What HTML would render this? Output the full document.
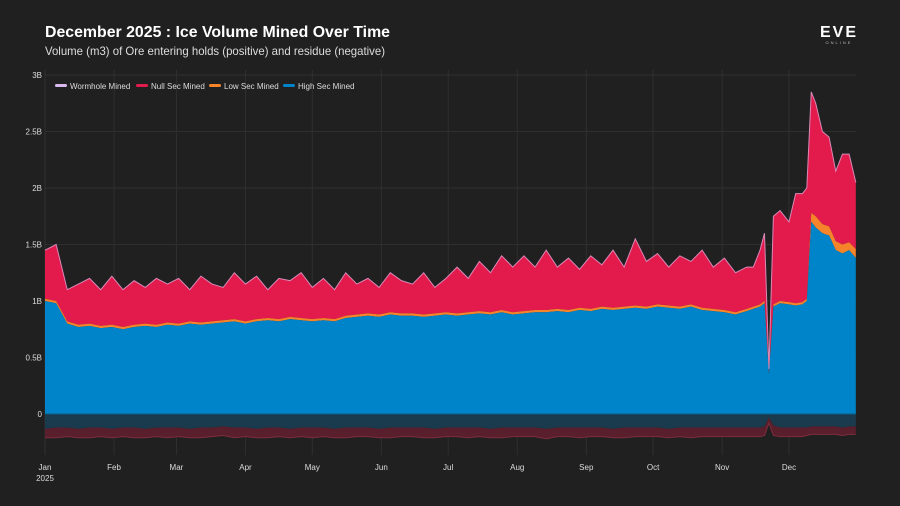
<!DOCTYPE html>
<html><head><meta charset="utf-8"><style>
body{margin:0;background:#202020;width:900px;height:506px;overflow:hidden;font-family:"Liberation Sans",sans-serif}
svg{display:block}
svg text{font-family:"Liberation Sans",sans-serif}
</style></head><body>
<svg id="chart" width="900" height="506" xmlns="http://www.w3.org/2000/svg">
<rect width="900" height="506" fill="#202020"/>
<text x="45" y="37" fill="#fff" font-size="16" font-weight="bold" textLength="345" lengthAdjust="spacingAndGlyphs">December 2025 : Ice Volume Mined Over Time</text>
<text x="45" y="55" fill="#ddd" font-size="12" textLength="340" lengthAdjust="spacingAndGlyphs">Volume (m3) of Ore entering holds (positive) and residue (negative)</text>
<g><text x="839" y="37" fill="#fff" font-size="16" font-weight="bold" text-anchor="middle" letter-spacing="2">EVE</text><text x="839" y="44" fill="#bbb" font-size="4" text-anchor="middle" letter-spacing="2">ONLINE</text></g>
<g id="grid"></g><g id="areas"></g><g id="axes"></g>
<g font-size="8" fill="#ddd">
<g><rect x="55" y="84" width="12" height="3" rx="1.5" fill="#d9b8f0"/><text x="70" y="89">Wormhole Mined</text></g>
<g><rect x="136" y="84" width="12" height="3" rx="1.5" fill="#e31b4d"/><text x="151" y="89">Null Sec Mined</text></g>
<g><rect x="209" y="84" width="12" height="3" rx="1.5" fill="#f5842a"/><text x="224" y="89">Low Sec Mined</text></g>
<g><rect x="283" y="84" width="12" height="3" rx="1.5" fill="#0084c9"/><text x="298" y="89">High Sec Mined</text></g>
</g>
</svg>
<script>
const days=[0,5,10,15,20,25,30,35,40,45,50,55,60,65,70,75,80,85,90,95,100,105,110,115,120,125,130,135,140,145,150,155,160,165,170,175,180,185,190,195,200,205,210,215,220,225,230,235,240,245,250,255,260,265,270,275,280,285,290,295,300,305,310,315,318,321,323,325,327,330,334,337,340,342,344,346,349,352,355,358,361,364];
const totalMined=[1.45,1.5,1.1,1.15,1.2,1.1,1.22,1.1,1.18,1.12,1.2,1.15,1.2,1.1,1.22,1.15,1.12,1.25,1.15,1.22,1.1,1.2,1.18,1.25,1.12,1.2,1.1,1.25,1.15,1.2,1.12,1.25,1.18,1.15,1.25,1.12,1.2,1.3,1.2,1.35,1.25,1.4,1.3,1.4,1.3,1.45,1.3,1.38,1.28,1.4,1.32,1.45,1.3,1.55,1.35,1.42,1.3,1.4,1.35,1.45,1.3,1.38,1.25,1.3,1.3,1.45,1.6,0.4,1.75,1.8,1.7,1.95,1.95,2.0,2.85,2.75,2.5,2.45,2.15,2.3,2.3,2.05];
const highSec=[1.0,0.98,0.8,0.77,0.78,0.76,0.77,0.75,0.77,0.78,0.77,0.79,0.78,0.8,0.79,0.8,0.81,0.82,0.8,0.82,0.83,0.82,0.84,0.83,0.82,0.83,0.82,0.85,0.86,0.87,0.86,0.88,0.87,0.87,0.86,0.87,0.88,0.87,0.88,0.89,0.88,0.9,0.88,0.89,0.9,0.9,0.91,0.9,0.92,0.91,0.93,0.92,0.93,0.94,0.93,0.95,0.94,0.93,0.95,0.92,0.91,0.9,0.88,0.91,0.93,0.95,0.98,0.35,0.95,0.98,0.97,0.96,0.97,1.0,1.7,1.65,1.6,1.58,1.45,1.42,1.45,1.38];
const lowSec=[0.02,0.02,0.02,0.02,0.02,0.02,0.02,0.02,0.02,0.02,0.02,0.02,0.02,0.02,0.02,0.02,0.02,0.02,0.02,0.02,0.02,0.02,0.02,0.02,0.02,0.02,0.02,0.02,0.02,0.02,0.02,0.02,0.02,0.02,0.02,0.02,0.02,0.02,0.02,0.02,0.02,0.02,0.02,0.02,0.02,0.02,0.02,0.02,0.02,0.02,0.02,0.02,0.02,0.02,0.02,0.02,0.02,0.02,0.02,0.02,0.02,0.02,0.02,0.02,0.02,0.02,0.02,0.01,0.02,0.02,0.02,0.02,0.02,0.02,0.08,0.1,0.08,0.08,0.08,0.08,0.07,0.08];
const highNeg=[-0.13,-0.12,-0.12,-0.13,-0.12,-0.12,-0.13,-0.12,-0.12,-0.13,-0.12,-0.12,-0.12,-0.13,-0.12,-0.12,-0.11,-0.12,-0.12,-0.13,-0.12,-0.12,-0.13,-0.12,-0.12,-0.12,-0.13,-0.12,-0.12,-0.12,-0.13,-0.12,-0.12,-0.12,-0.12,-0.13,-0.12,-0.12,-0.12,-0.12,-0.13,-0.12,-0.12,-0.12,-0.12,-0.13,-0.12,-0.12,-0.12,-0.12,-0.12,-0.13,-0.12,-0.12,-0.12,-0.12,-0.13,-0.12,-0.12,-0.12,-0.12,-0.12,-0.12,-0.12,-0.12,-0.12,-0.11,-0.03,-0.1,-0.12,-0.12,-0.12,-0.12,-0.12,-0.11,-0.11,-0.11,-0.11,-0.11,-0.12,-0.11,-0.11];
const nullNeg=[-0.08,-0.09,-0.08,-0.08,-0.09,-0.08,-0.08,-0.08,-0.09,-0.08,-0.08,-0.09,-0.08,-0.08,-0.09,-0.08,-0.08,-0.09,-0.08,-0.08,-0.09,-0.08,-0.08,-0.08,-0.09,-0.08,-0.08,-0.09,-0.08,-0.08,-0.08,-0.09,-0.08,-0.08,-0.09,-0.08,-0.08,-0.08,-0.09,-0.08,-0.08,-0.09,-0.08,-0.08,-0.08,-0.09,-0.08,-0.08,-0.09,-0.08,-0.08,-0.08,-0.09,-0.08,-0.08,-0.08,-0.08,-0.08,-0.09,-0.08,-0.08,-0.08,-0.08,-0.08,-0.08,-0.08,-0.08,-0.05,-0.09,-0.08,-0.08,-0.08,-0.08,-0.07,-0.07,-0.07,-0.07,-0.07,-0.07,-0.07,-0.07,-0.07];
const yTicks=[0,0.5,1,1.5,2,2.5,3];
const yTickLabels=["0","0.5B","1B","1.5B","2B","2.5B","3B"];
const monthDays=[0,31,59,90,120,151,181,212,243,273,304,334];
const monthLabels=["Jan","Feb","Mar","Apr","May","Jun","Jul","Aug","Sep","Oct","Nov","Dec"];

const NS="http://www.w3.org/2000/svg";
const X=d=>45+d*2.2275;
const Y=v=>414-v*113;
function mk(tag,attrs,parent){const e=document.createElementNS(NS,tag);for(const k in attrs)e.setAttribute(k,attrs[k]);parent.appendChild(e);return e;}
const grid=document.getElementById('grid'),areas=document.getElementById('areas'),axes=document.getElementById('axes');
yTicks.forEach((t,i)=>{
  const l=mk('line',{x1:45,x2:856,y1:Y(t),y2:Y(t),stroke:'#2f2f2f','stroke-width':1},grid);
  
  
  const tx=mk('text',{x:42,y:Y(t)+3,fill:'#ddd','font-size':8,'text-anchor':'end'},axes);
  tx.textContent=yTickLabels[i];
  
  
});
monthDays.forEach((d,i)=>{
  const l=mk('line',{x1:X(d),x2:X(d),y1:70,y2:455,stroke:'#2f2f2f','stroke-width':1},grid);
  
  
  const tx=mk('text',{x:X(d),y:470,fill:'#ddd','font-size':8,'text-anchor':'middle'},axes);
  tx.textContent=monthLabels[i];
  
  
});
const yr=mk('text',{x:X(0),y:481,fill:'#ddd','font-size':8,'text-anchor':'middle'},axes);
yr.textContent='2025';



function band(lo,hi){let p='M'+days.map((d,i)=>X(d)+','+Y(hi[i])).join('L');for(let i=days.length-1;i>=0;i--)p+='L'+X(days[i])+','+Y(lo[i]);return p+'Z';}
function line(v){return 'M'+days.map((d,i)=>X(d)+','+Y(v[i])).join('L');}
const zeroV=days.map(()=>0);
const hsTop=highSec;
const lsTop=highSec.map((v,i)=>v+lowSec[i]);
const topV=totalMined.map((v,i)=>Math.max(v,lsTop[i]));
const negTotal=highNeg.map((v,i)=>v+nullNeg[i]);
let e;
e=mk('path',{d:band(negTotal,highNeg),fill:'#5a1f2c'},areas);


e=mk('path',{d:line(negTotal),fill:'none',stroke:'#7d2d3d','stroke-width':1},areas);


e=mk('path',{d:band(highNeg,zeroV),fill:'#1a3a4e'},areas);


e=mk('path',{d:band(lsTop,topV),fill:'#e31b4d'},areas);


e=mk('path',{d:band(hsTop,lsTop),fill:'#f5842a'},areas);


e=mk('path',{d:band(zeroV,hsTop),fill:'#0084c9'},areas);


e=mk('path',{d:line(topV),fill:'none',stroke:'#d88ab8','stroke-width':1},areas);


e=mk('line',{x1:45,x2:856,y1:Y(0),y2:Y(0),stroke:'#0f5a85','stroke-width':1},areas);


</script>
</body></html>
